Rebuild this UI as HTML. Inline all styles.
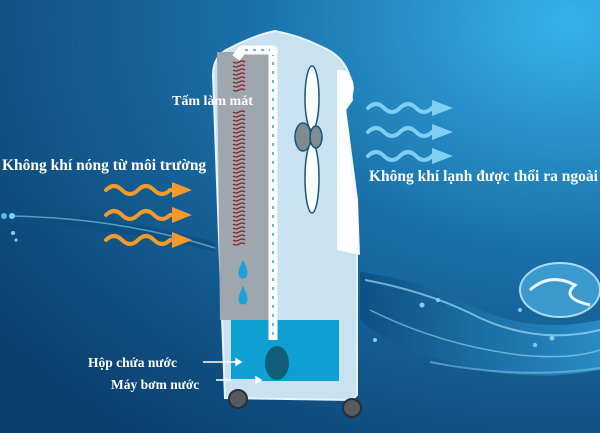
<!DOCTYPE html>
<html><head><meta charset="utf-8"><style>
html,body{margin:0;padding:0;width:600px;height:433px;overflow:hidden}
svg{display:block}
text{font-family:"Liberation Serif",serif;font-weight:bold;fill:#fff}
</style></head><body>
<svg width="600" height="433" viewBox="0 0 600 433" xmlns="http://www.w3.org/2000/svg">
<defs>
<radialGradient id="bg" cx="0.95" cy="0.05" r="1.2">
<stop offset="0" stop-color="#36b2e8"/><stop offset="0.45" stop-color="#1a6fa8"/><stop offset="1" stop-color="#0b3f6e"/>
</radialGradient>
<linearGradient id="wv" x1="0" y1="0" x2="1" y2="0"><stop offset="0" stop-color="#0d4f82"/><stop offset="1" stop-color="#2a90c8"/></linearGradient>
</defs>
<rect width="600" height="433" fill="url(#bg)"/>
<path d="M0 212 Q100 212 215 242 L215 252 Q120 228 0 222Z" fill="#0e4f80" opacity="0.8"/>
<path d="M10 216 Q120 218 215 248" stroke="#8fd0f0" stroke-width="1.5" fill="none" opacity="0.6"/>
<circle cx="12" cy="216" r="3" fill="#7fd0f5"/><circle cx="4" cy="216" r="3" fill="#5ab8e5"/><circle cx="13" cy="233" r="2" fill="#7fd0f5"/><circle cx="16" cy="240" r="1.5" fill="#7fd0f5"/>
<path d="M360 272 Q420 280 470 305 Q530 335 600 320 L600 370 Q520 385 440 360 Q390 345 360 320Z" fill="url(#wv)" opacity="0.9"/>
<path d="M365 280 Q430 292 480 318 Q540 345 600 330" stroke="#9fdcf7" stroke-width="2" fill="none" opacity="0.7"/>
<path d="M370 310 Q440 345 520 355 Q570 360 600 350" stroke="#9fdcf7" stroke-width="1.5" fill="none" opacity="0.6"/>
<path d="M430 362 Q520 380 600 368" stroke="#8fd0f0" stroke-width="2" fill="none" opacity="0.5"/>
<ellipse cx="560" cy="290" rx="40" ry="27" fill="#3f9fd3" stroke="#bde8fb" stroke-width="2" opacity="0.9"/>
<path d="M530 290 Q550 272 575 285 Q560 298 590 305" stroke="#e6f7ff" stroke-width="3" fill="none"/>
<circle cx="422" cy="305" r="2.5" fill="#7fd0f5"/><circle cx="438" cy="300" r="2" fill="#7fd0f5"/><circle cx="375" cy="340" r="2" fill="#7fd0f5"/><circle cx="535" cy="345" r="2" fill="#7fd0f5"/><circle cx="552" cy="338" r="2.5" fill="#7fd0f5"/><circle cx="520" cy="310" r="2" fill="#7fd0f5"/>
<path d="M225 398 L213 75 Q213 55 230 48 Q255 35 275 31 Q300 36 320 46 Q345 56 350 78 L352 100 L345 110 L352 200 L357 200 L357 395 L352 400Z" fill="#c9e2f1" stroke="#e8f4fb" stroke-width="2"/>
<path d="M217 52 L273 52 L273 320 L220 320Z" fill="#9fa6ad"/>
<path d="M337 70 Q352 68 354 88 L352 100 L346 108 L358 200 L360 255 L337 250Z" fill="#fff" opacity="0.95"/>
<rect x="231" y="320" width="108" height="61" fill="#0fa0d3"/>
<path d="M273 340 L273 50 L242 50 L236 58" stroke="#fff" stroke-width="9" fill="none" stroke-linejoin="round"/>
<path d="M273 335 L273 55" stroke="#2fa8e0" stroke-width="1.5" stroke-dasharray="3 6" fill="none"/>
<path d="M245 50 L270 50" stroke="#2fa8e0" stroke-width="1.5" stroke-dasharray="3 5" fill="none"/>
<ellipse cx="277" cy="363" rx="12" ry="17" fill="#125e78"/>
<g stroke="#8a1e24" stroke-width="1.2" fill="none">
<path d="M233 62 q3 2 6 0 t6 0 M233 66 q3 2 6 0 t6 0 M233 70 q3 2 6 0 t6 0 M233 74 q3 2 6 0 t6 0 M233 78 q3 2 6 0 t6 0 M233 82 q3 2 6 0 t6 0 M233 86 q3 2 6 0 t6 0 M233 90 q3 2 6 0 t6 0"/>
<path d="M233 112 q3 2 6 0 t6 0 M233 116 q3 2 6 0 t6 0 M233 120 q3 2 6 0 t6 0 M233 124 q3 2 6 0 t6 0 M233 128 q3 2 6 0 t6 0 M233 132 q3 2 6 0 t6 0 M233 136 q3 2 6 0 t6 0 M233 140 q3 2 6 0 t6 0 M233 144 q3 2 6 0 t6 0 M233 148 q3 2 6 0 t6 0 M233 152 q3 2 6 0 t6 0 M233 156 q3 2 6 0 t6 0 M233 160 q3 2 6 0 t6 0 M233 164 q3 2 6 0 t6 0 M233 168 q3 2 6 0 t6 0 M233 172 q3 2 6 0 t6 0 M233 176 q3 2 6 0 t6 0 M233 180 q3 2 6 0 t6 0 M233 184 q3 2 6 0 t6 0 M233 188 q3 2 6 0 t6 0 M233 192 q3 2 6 0 t6 0 M233 196 q3 2 6 0 t6 0 M233 200 q3 2 6 0 t6 0 M233 204 q3 2 6 0 t6 0 M233 208 q3 2 6 0 t6 0 M233 212 q3 2 6 0 t6 0 M233 216 q3 2 6 0 t6 0 M233 220 q3 2 6 0 t6 0 M233 224 q3 2 6 0 t6 0 M233 228 q3 2 6 0 t6 0 M233 232 q3 2 6 0 t6 0 M233 236 q3 2 6 0 t6 0 M233 240 q3 2 6 0 t6 0 M233 244 q3 2 6 0 t6 0"/>
</g>
<path d="M243 260 Q237 272 239 276 A4.5 4.5 0 0 0 247 276 Q249 272 243 260Z" fill="#1aa3d8"/>
<path d="M243 286 Q237 298 239 302 A4.5 4.5 0 0 0 247 302 Q249 298 243 286Z" fill="#1aa3d8"/>
<g stroke="#0f5a7a" stroke-width="1.5" fill="#fff">
<ellipse cx="312" cy="98" rx="7" ry="32"/>
<ellipse cx="312" cy="178" rx="7" ry="35"/>
<ellipse cx="303" cy="137" rx="8" ry="14" fill="#808a90"/>
<ellipse cx="316" cy="137" rx="6" ry="11" fill="#808a90"/>
</g>
<circle cx="238" cy="399" r="9" fill="#555b60" stroke="#2b2f33" stroke-width="2"/>
<circle cx="352" cy="408" r="9" fill="#555b60" stroke="#2b2f33" stroke-width="2"/>
<g stroke="#f39a2b" stroke-width="4" fill="none" stroke-linecap="round">
<path d="M106 190 q8 -8 16 0 t16 0 t16 0 t16 0 L178 190"/>
<path d="M106 215 q8 -8 16 0 t16 0 t16 0 t16 0 L178 215"/>
<path d="M106 240 q8 -8 16 0 t16 0 t16 0 t16 0 L178 240"/>
</g>
<g fill="#f39a2b"><path d="M172 182 L192 190 L172 198Z"/><path d="M172 207 L192 215 L172 223Z"/><path d="M172 232 L192 240 L172 248Z"/></g>
<g stroke="#7fcff2" stroke-width="4" fill="none" stroke-linecap="round">
<path d="M368 108 q8 -8 16 0 t16 0 t16 0 t16 0 L436 108"/>
<path d="M368 132 q8 -8 16 0 t16 0 t16 0 t16 0 L436 132"/>
<path d="M368 156 q8 -8 16 0 t16 0 t16 0 t16 0 L436 156"/>
</g>
<g fill="#7fcff2"><path d="M432 100 L453 108 L432 116Z"/><path d="M432 124 L453 132 L432 140Z"/><path d="M432 148 L453 156 L432 164Z"/></g>
<text x="172" y="105" font-size="14">Tấm làm mát</text>
<text x="2" y="170" font-size="15.5">Không khí nóng từ môi trường</text>
<text x="369" y="181" font-size="15.5">Không khí lạnh được thổi ra ngoài</text>
<text x="88" y="367" font-size="13.5">Hộp chứa nước</text>
<text x="111" y="389" font-size="13.5">Máy bơm nước</text>
<g stroke="#fff" stroke-width="1.5" fill="#fff">
<path d="M203 362 L236 362"/><path d="M236 359 L241 362 L236 365Z"/>
<path d="M216 380 L256 380"/><path d="M256 377 L261 380 L256 383Z"/>
</g>
</svg>
</body></html>
